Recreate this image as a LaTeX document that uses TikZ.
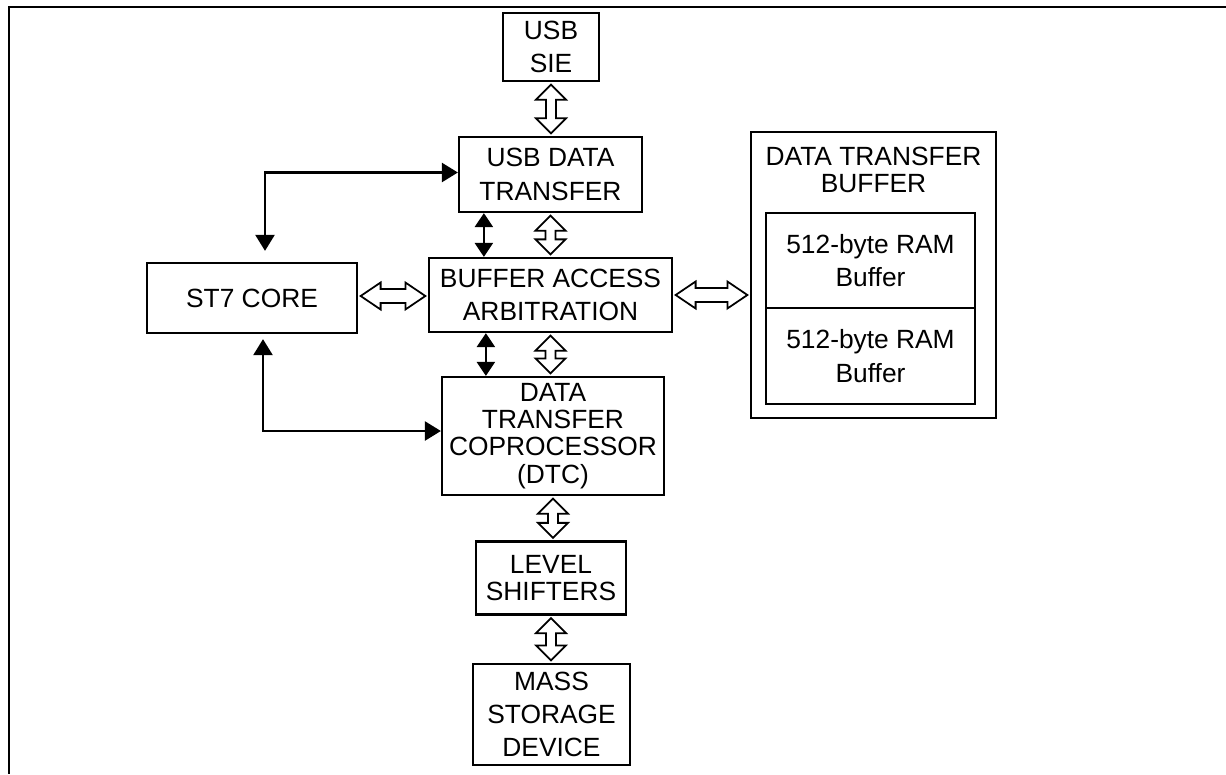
\documentclass[tikz,border=0pt]{standalone}
\usepackage{fontspec}
\setmainfont{Liberation Sans}
\usetikzlibrary{arrows.meta, calc}

% hollow double arrows between two boxes
\newcommand{\vfat}[2]{%
	\draw[fatarrow] let \p1=(#1), \p2=(#2) in
	(\x1,\y1-0.05cm) -- (\x1+0.3cm,\y1-0.35cm) -- (\x1+0.1cm,\y1-0.35cm)
	-- (\x1+0.1cm,\y2+0.35cm) -- (\x1+0.3cm,\y2+0.35cm) -- (\x1,\y2+0.05cm)
	-- (\x1-0.3cm,\y2+0.35cm) -- (\x1-0.1cm,\y2+0.35cm)
	-- (\x1-0.1cm,\y1-0.35cm) -- (\x1-0.3cm,\y1-0.35cm) -- cycle;}
\newcommand{\hfat}[2]{%
	\draw[fatarrow] let \p1=(#1), \p2=(#2) in
	(\x1+0.05cm,\y1) -- (\x1+0.45cm,\y1+0.27cm) -- (\x1+0.45cm,\y1+0.14cm)
	-- (\x2-0.45cm,\y1+0.14cm) -- (\x2-0.45cm,\y1+0.27cm) -- (\x2-0.05cm,\y1)
	-- (\x2-0.45cm,\y1-0.27cm) -- (\x2-0.45cm,\y1-0.14cm)
	-- (\x1+0.45cm,\y1-0.14cm) -- (\x1+0.45cm,\y1-0.27cm) -- cycle;}

\tikzset{
	blk/.style={draw, line width=1.3pt, align=center, inner sep=0pt,
		font=\fontsize{15}{19}\selectfont},
	tight/.style={font=\fontsize{15}{15.5}\selectfont},
	fatarrow/.style={draw, fill=white, line width=1pt, line join=miter},
	larrow/.style={line width=1.4pt,
		{Triangle[width=0.38cm,length=0.32cm]}-{Triangle[width=0.38cm,length=0.32cm]}},
	sarrow/.style={line width=1.4pt,
		{Triangle[width=0.36cm,length=0.28cm]}-{Triangle[width=0.36cm,length=0.28cm]}},
}

\begin{document}
\begin{tikzpicture}[x=0.02cm, y=-0.02cm, line join=miter]
\useasboundingbox (0,0) rectangle (1226,774);

% frame
\draw[line width=1.3pt] (1226,7) -- (9,7) -- (9,774);

%========================
% Centre column
%========================
\node[blk, minimum width=1.92cm, minimum height=1.36cm] (sie) at (551,47) {USB\\SIE};
\node[blk, minimum width=3.66cm, minimum height=1.5cm] (udt) at (550.5,174.5) {USB DATA\\TRANSFER};
\node[blk, minimum width=4.86cm, minimum height=1.48cm] (baa) at (550.5,295) {BUFFER ACCESS\\ARBITRATION};
\node[blk, tight, minimum width=4.44cm, minimum height=2.36cm] (dtc) at (553,436)
	{DATA\\TRANSFER\\COPROCESSOR\\(DTC)};
\node[blk, tight, minimum width=3.0cm, minimum height=1.46cm] (lvl) at (551,578) {LEVEL\\SHIFTERS};
\node[blk, minimum width=3.14cm, minimum height=2.02cm] (msd) at (551.5,714.5) {MASS\\STORAGE\\DEVICE};

%========================
% Left: core
%========================
\node[blk, minimum width=4.2cm, minimum height=1.4cm] (st7) at (252,298) {ST7 CORE};

%========================
% Right: buffer
%========================
\node[blk, minimum width=4.9cm, minimum height=5.72cm] (dtb) at (873.5,275) {};
\node[font=\fontsize{15}{15.5}\selectfont, align=center] (dtbt) at (873.5,170) {DATA TRANSFER\\BUFFER};
\node[blk, minimum width=4.18cm, minimum height=1.9cm] (ram1) at (870.5,260.5) {512-byte RAM\\Buffer};
\node[blk, minimum width=4.18cm, minimum height=1.92cm] (ram2) at (870.5,356) {512-byte RAM\\Buffer};

% hollow bus arrows
\vfat{sie.south}{udt.north}
\vfat{udt.south}{baa.north}
\vfat{baa.south}{dtc.north}
\vfat{dtc.south}{lvl.north}
\vfat{lvl.south}{msd.north}
\hfat{[yshift=0.04cm]st7.east}{baa.west}
\hfat{baa.east}{dtb.west}

% control arrows
\draw[sarrow] ([xshift=0.52cm]udt.south west) -- ([xshift=0.52cm]udt.south west |- baa.north);
\draw[sarrow] ([xshift=0.9cm]dtc.north west |- baa.south) -- ([xshift=0.9cm]dtc.north west);
\draw[larrow, shorten >=0.22cm] ([yshift=0.04cm]udt.west) -| ([xshift=0.26cm]st7.north);
\draw[larrow, shorten >=0.1cm] ([yshift=0.1cm]dtc.west) -| ([xshift=0.22cm]st7.south);
\end{tikzpicture}
\end{document}
